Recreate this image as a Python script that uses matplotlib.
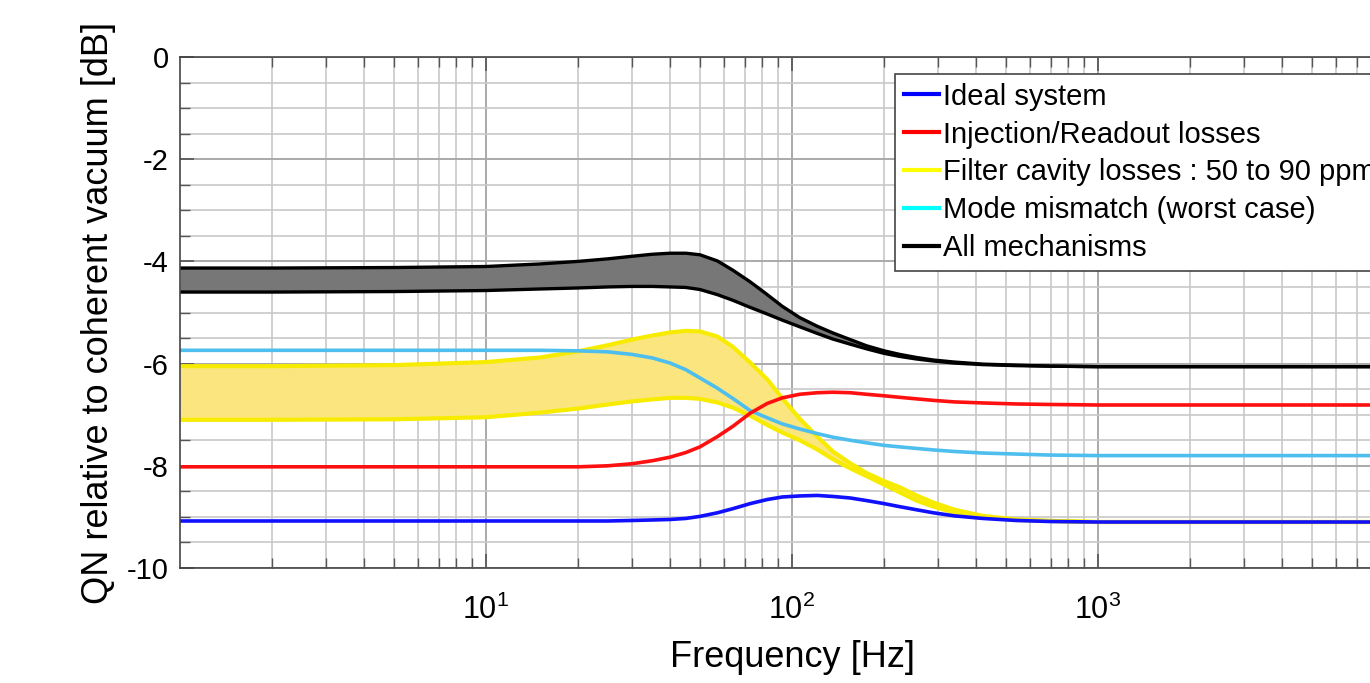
import matplotlib
matplotlib.use("Agg")
import matplotlib.pyplot as plt
from matplotlib.lines import Line2D
from matplotlib.ticker import MultipleLocator, LogLocator, NullFormatter

plt.rcParams['font.family'] = ['Liberation Sans', 'DejaVu Sans']
plt.rcParams['mathtext.fontset'] = 'custom'
plt.rcParams['mathtext.rm'] = 'Liberation Sans'
plt.rcParams['axes.unicode_minus'] = False

freq = [1, 2, 5, 10, 15, 20, 25, 30, 35, 40, 45, 50, 57, 64, 73, 83, 93, 106, 121,
        136, 155, 175, 200, 225, 255, 290, 340, 420, 540, 700, 1000, 2000, 5000, 10000]

ideal = [-9.08, -9.08, -9.08, -9.08, -9.08, -9.08, -9.08, -9.07, -9.06, -9.05, -9.03, -8.99,
         -8.92, -8.84, -8.74, -8.66, -8.61, -8.59, -8.58, -8.60, -8.63, -8.68, -8.74, -8.80,
         -8.86, -8.92, -8.98, -9.03, -9.07, -9.09, -9.10, -9.10, -9.10, -9.10]

inj_readout = [-8.02, -8.02, -8.02, -8.02, -8.02, -8.02, -8.00, -7.96, -7.90, -7.83, -7.74,
               -7.63, -7.43, -7.23, -6.97, -6.78, -6.67, -6.60, -6.57, -6.56, -6.57, -6.60,
               -6.63, -6.66, -6.69, -6.72, -6.75, -6.77, -6.79, -6.80, -6.81, -6.81, -6.81, -6.81]

mode_mismatch = [-5.74, -5.74, -5.74, -5.74, -5.74, -5.75, -5.77, -5.82, -5.89, -5.99, -6.12,
                 -6.28, -6.48, -6.68, -6.92, -7.06, -7.18, -7.28, -7.37, -7.44, -7.50, -7.55,
                 -7.60, -7.63, -7.66, -7.69, -7.72, -7.75, -7.77, -7.79, -7.80, -7.80, -7.80, -7.80]

filter_50ppm = [-6.05, -6.05, -6.03, -5.97, -5.88, -5.76, -5.64, -5.53, -5.45, -5.39, -5.36,
                -5.37, -5.47, -5.67, -5.98, -6.31, -6.68, -7.08, -7.43, -7.72, -7.95, -8.14,
                -8.30, -8.42, -8.58, -8.72, -8.86, -8.98, -9.05, -9.08, -9.10, -9.10, -9.10, -9.10]

filter_90ppm = [-7.10, -7.10, -7.09, -7.05, -6.96, -6.88, -6.80, -6.74, -6.70, -6.67, -6.67,
                -6.69, -6.76, -6.86, -7.02, -7.20, -7.35, -7.50, -7.68, -7.87, -8.05, -8.20,
                -8.37, -8.52, -8.68, -8.80, -8.92, -9.01, -9.06, -9.08, -9.10, -9.10, -9.10, -9.10]

all_upper = [-4.13, -4.13, -4.12, -4.10, -4.05, -4.00, -3.95, -3.90, -3.86, -3.84, -3.84,
             -3.87, -3.99, -4.17, -4.40, -4.65, -4.88, -5.10, -5.27, -5.40, -5.53, -5.65,
             -5.75, -5.82, -5.88, -5.93, -5.97, -6.01, -6.03, -6.05, -6.06, -6.06, -6.06, -6.06]

all_lower = [-4.60, -4.60, -4.59, -4.57, -4.54, -4.52, -4.50, -4.49, -4.49, -4.50, -4.51,
             -4.55, -4.65, -4.76, -4.90, -5.03, -5.15, -5.28, -5.41, -5.52, -5.62, -5.71,
             -5.80, -5.86, -5.91, -5.95, -5.99, -6.02, -6.04, -6.05, -6.06, -6.06, -6.06, -6.06]

legend_labels = ['Ideal system', 'Injection/Readout losses', 'Filter cavity losses : 50 to 90 ppm',
                 'Mode mismatch (worst case)', 'All mechanisms']
legend_colors = ['#0000ff', '#ff0000', '#ffff00', '#00ffff', '#000000']

fig = plt.figure(figsize=(13.7, 6.83), dpi=100)
# the original picture is cropped on the right, so the axes run past the figure edge
ax = fig.add_axes([180 / 1370, 115 / 683, 1224 / 1370, 511 / 683])

ax.fill_between(freq, all_upper, all_lower, color='#777777', lw=0)
ax.plot(freq, all_upper, color='black', lw=2.4)
ax.plot(freq, all_lower, color='black', lw=2.4)

ax.fill_between(freq, filter_50ppm, filter_90ppm, color='#fbe57e', lw=0)
ax.plot(freq, filter_50ppm, color='#f7ec00', lw=3.0)
ax.plot(freq, filter_90ppm, color='#f7ec00', lw=3.0)

ax.plot(freq, mode_mismatch, color='#4dbeee', lw=2.6)
ax.plot(freq, inj_readout, color='#ff1010', lw=2.6)
ax.plot(freq, ideal, color='#1010ff', lw=2.6)

ax.set_xscale('log')
ax.set_xlim(1, 1e4)
ax.set_ylim(-10, 0)

ax.set_xticks([10, 100, 1000])
ax.set_xticklabels([r'$\mathdefault{10^{1}}$', r'$\mathdefault{10^{2}}$', r'$\mathdefault{10^{3}}$'])
ax.xaxis.set_minor_locator(LogLocator(base=10, subs=range(2, 10)))
ax.xaxis.set_minor_formatter(NullFormatter())
ax.yaxis.set_major_locator(MultipleLocator(2))
ax.yaxis.set_minor_locator(MultipleLocator(0.5))

ax.grid(True, which='major', color='#aaaaaa', lw=1.4)
ax.grid(True, which='minor', color='#c8c8c8', lw=1.2)
ax.set_axisbelow(True)

ax.tick_params(which='both', direction='in', top=True, right=True, color='#555555')
ax.tick_params(which='major', length=10, width=1.2, labelsize=21, pad=8)
ax.tick_params(axis='x', which='major', labelsize=22, pad=19)
ax.tick_params(which='minor', length=7, width=1.0)
for sp in ax.spines.values():
    sp.set_color('#444444')
    sp.set_linewidth(1.2)

ax.set_xlabel('Frequency [Hz]', fontsize=26, labelpad=10)
ax.set_ylabel('QN relative to coherent vacuum [dB]', fontsize=26, labelpad=8)

handles = [Line2D([], [], color=c, lw=3) for c in legend_colors]
leg = ax.legend(handles, legend_labels, loc='upper left', bbox_to_anchor=(0.584, 0.967),
                borderaxespad=0, fontsize=21, handlelength=1.2, handletextpad=0.15,
                labelspacing=0.34, borderpad=0.3, fancybox=False, framealpha=1)
leg.get_frame().set_edgecolor('#444444')
leg.get_frame().set_linewidth(1.2)

fig.savefig('out.png', dpi=100)
